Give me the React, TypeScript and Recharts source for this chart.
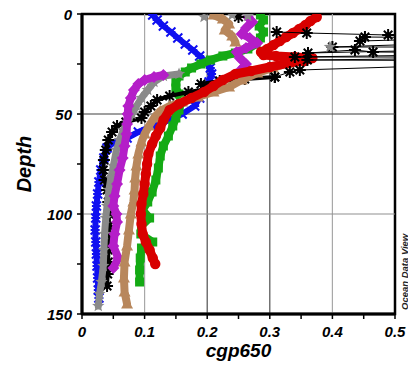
import React from "react";
import { ScatterChart, Scatter, XAxis, YAxis, ReferenceLine, ReferenceArea } from "recharts";

type P = [number, number]; // [cgp650, depth]

// ---- axis ticks ----
const xMajorTicks = [0, 0.1, 0.2, 0.3, 0.4, 0.5];
const xTickLabels = ["0", "0.1", "0.2", "0.3", "0.4", "0.5"];
const xMinorTicks = [0.05, 0.15, 0.25, 0.35, 0.45];
const yMajorTicks = [0, 50, 100, 150];
const yTickLabels = ["0", "50", "100", "150"];
const yMinorTicks = [25, 75, 125];
const xGridValues = [0.1, 0.2, 0.3, 0.4];
const yGridValues = [50, 100];

// ---- series (cgp650, depth) ----
const blueProfile: P[] = [
  [0.113, 0.5], [0.12, 3], [0.13, 6], [0.142, 9], [0.153, 12], [0.165, 15], [0.177, 18],
  [0.188, 21], [0.198, 24], [0.205, 27], [0.207, 30], [0.203, 34], [0.196, 38], [0.188, 42],
  [0.18, 46], [0.16, 50], [0.14, 53], [0.112, 56], [0.09, 59], [0.072, 62], [0.05, 64.5],
  [0.04, 67], [0.035, 72], [0.03, 78], [0.027, 84], [0.025, 90], [0.023, 96], [0.022, 102],
  [0.021, 108], [0.022, 114], [0.023, 120], [0.024, 126], [0.025, 132], [0.026, 138], [0.027, 142],
];
const greenProfile: P[] = [
  [0.285, 0.5], [0.29, 3], [0.283, 6], [0.29, 9], [0.285, 12], [0.278, 15], [0.265, 17.5],
  [0.245, 19.5], [0.225, 21], [0.205, 23], [0.19, 25], [0.175, 27], [0.165, 29], [0.155, 31],
  [0.15, 34], [0.15, 37], [0.155, 40], [0.158, 44], [0.155, 48], [0.15, 52], [0.145, 56],
  [0.138, 61], [0.13, 66], [0.125, 71], [0.122, 77], [0.118, 83], [0.112, 89], [0.105, 94],
  [0.097, 98], [0.108, 102], [0.095, 106], [0.094, 110], [0.113, 114], [0.095, 117],
  [0.093, 122], [0.092, 128], [0.092, 134],
];
const blackProfile: P[] = [
  [0.308, 31.5], [0.26, 32.5], [0.22, 33.5], [0.19, 35], [0.2, 37.5], [0.17, 39], [0.14, 41],
  [0.12, 43], [0.11, 46], [0.1, 49], [0.095, 52], [0.07, 54], [0.056, 56], [0.048, 59],
  [0.042, 63], [0.038, 68], [0.035, 73], [0.034, 78], [0.036, 83], [0.04, 88], [0.042, 94],
  [0.043, 100], [0.043, 106], [0.043, 112], [0.042, 118], [0.042, 124], [0.041, 130], [0.04, 136],
];
const blackSurface: P[] = [
  [0.311, 9], [0.359, 9.5], [0.489, 10.5], [0.8, 10.5], [0.444, 13.5], [0.452, 11.5],
  [0.8, 12.5], [0.4, 16.5], [0.8, 16.5], [0.361, 19.5], [0.436, 18], [0.465, 19], [0.8, 19.5],
  [0.34, 21.5], [0.8, 21.5], [0.36, 23], [0.8, 23.5], [0.348, 28], [0.332, 29], [0.308, 31.5],
];
const blackTop: P[] = [[0.25, 1.5]];
const graySurface: P[] = [[0.195, 1.5], [0.24, 0.5], [0.265, 1], [0.396, 16.5]];
const grayProfile: P[] = [
  [0.155, 30], [0.13, 31], [0.115, 34], [0.105, 38], [0.095, 42], [0.087, 46], [0.08, 50],
  [0.072, 54], [0.066, 58], [0.06, 63], [0.055, 68], [0.05, 76], [0.046, 82], [0.043, 88],
  [0.04, 96], [0.038, 102], [0.036, 110], [0.035, 118], [0.034, 126], [0.031, 134],
  [0.028, 140], [0.026, 146],
];
const magentaTop: P[] = [
  [0.265, 1.5], [0.272, 4], [0.262, 7], [0.255, 10], [0.268, 12], [0.28, 14.5], [0.262, 17],
  [0.247, 19], [0.252, 22], [0.262, 25], [0.255, 27.5],
];
const magentaProfile: P[] = [
  [0.13, 30.5], [0.115, 31.5], [0.1, 33], [0.09, 35], [0.083, 38], [0.078, 42], [0.074, 46],
  [0.073, 50], [0.072, 55], [0.071, 60], [0.068, 66], [0.065, 72], [0.06, 78], [0.056, 85],
  [0.052, 91], [0.05, 96], [0.055, 100], [0.056, 104], [0.052, 110], [0.05, 116],
  [0.058, 122], [0.05, 127],
];
const brownTop: P[] = [[0.21, 0.5], [0.225, 2.5], [0.235, 5], [0.228, 8], [0.24, 11], [0.245, 14]];
const brownProfile: P[] = [
  [0.36, 22], [0.33, 24.5], [0.305, 27], [0.28, 29.5], [0.255, 33], [0.235, 36.5], [0.21, 39],
  [0.185, 41.5], [0.16, 44], [0.14, 46], [0.125, 48.5], [0.115, 52], [0.107, 56], [0.1, 60],
  [0.095, 64], [0.09, 70], [0.087, 76], [0.085, 82], [0.084, 88], [0.082, 94], [0.078, 100],
  [0.075, 108], [0.072, 116], [0.068, 124], [0.067, 132], [0.068, 139], [0.072, 145],
];
const redProfile: P[] = [
  [0.375, 1.5], [0.365, 3.5], [0.357, 5.5], [0.347, 7.5], [0.337, 9.5], [0.326, 11.5],
  [0.316, 13.5], [0.306, 15.5], [0.296, 17.5], [0.286, 19], [0.29, 20.5], [0.31, 21],
  [0.34, 21.5], [0.368, 22], [0.355, 23.5], [0.33, 24.5], [0.3, 26.5], [0.27, 28.5],
  [0.245, 30], [0.225, 33], [0.21, 36], [0.195, 39], [0.175, 42], [0.155, 45], [0.14, 48],
  [0.13, 53], [0.125, 57], [0.118, 61], [0.112, 65], [0.106, 70], [0.104, 75], [0.102, 80],
  [0.1, 85], [0.098, 90], [0.095, 95], [0.094, 100], [0.095, 105], [0.097, 110], [0.102, 114],
  [0.108, 118], [0.113, 122], [0.117, 125],
];

// ---- styles ----
const C = {
  blue: "#1010f0",
  black: "#000000",
  gray: "#8a8a8a",
  brown: "#b8875c",
  green: "#14aa14",
  magenta: "#b41ec8",
  red: "#d80000",
};
const FONT = "'Liberation Sans', Arial, Helvetica, sans-serif";

const toPts = (a: P[]) => a.map(([x, d]) => ({ x, d }));

const marker = (kind: string, color: string) => (p: any) => {
  const { cx, cy } = p;
  if (cx == null || cy == null || isNaN(cx) || isNaN(cy)) return <g />;
  switch (kind) {
    case "cross": {
      const r = 4.5;
      return (
        <g stroke={color} strokeWidth={2}>
          <line x1={cx - r} y1={cy - r} x2={cx + r} y2={cy + r} />
          <line x1={cx - r} y1={cy + r} x2={cx + r} y2={cy - r} />
          <line x1={cx - r} y1={cy} x2={cx + r} y2={cy} />
        </g>
      );
    }
    case "asterisk": {
      const r = 6;
      const segs = [0, 45, 90, 135].map((a) => {
        const rad = (a * Math.PI) / 180;
        return (
          <line key={a} x1={cx - r * Math.cos(rad)} y1={cy - r * Math.sin(rad)}
            x2={cx + r * Math.cos(rad)} y2={cy + r * Math.sin(rad)} />
        );
      });
      return (
        <g stroke={color} strokeWidth={2}>
          {segs}
          <circle cx={cx} cy={cy} r={2.8} fill={color} stroke="none" />
        </g>
      );
    }
    case "star": {
      const pts: string[] = [];
      for (let i = 0; i < 10; i++) {
        const r = i % 2 === 0 ? 6.5 : 2.8;
        const a = -Math.PI / 2 + (i * Math.PI) / 5;
        pts.push(`${cx + r * Math.cos(a)},${cy + r * Math.sin(a)}`);
      }
      return <polygon points={pts.join(" ")} fill={color} />;
    }
    case "triangle":
      return <polygon points={`${cx},${cy - 6} ${cx + 6},${cy + 4.5} ${cx - 6},${cy + 4.5}`} fill={color} />;
    case "square":
      return <rect x={cx - 4.5} y={cy - 4.5} width={9} height={9} fill={color} />;
    case "diamond":
      return <polygon points={`${cx},${cy - 6} ${cx + 6},${cy} ${cx},${cy + 6} ${cx - 6},${cy}`} fill={color} />;
    default:
      return <circle cx={cx} cy={cy} r={5.2} fill={color} />;
  }
};

const isMajorX = (v: number) => xMajorTicks.some((m) => Math.abs(m - v) < 1e-9);
const isMajorY = (v: number) => yMajorTicks.some((m) => Math.abs(m - v) < 1e-9);

const XTick = (props: any) => {
  const { x, y, payload } = props;
  const v = payload.value as number;
  if (!isMajorX(v)) return <g />;
  const idx = xMajorTicks.findIndex((m) => Math.abs(m - v) < 1e-9);
  return (
    <text x={x} y={y} dy={16} textAnchor="middle" fontFamily={FONT} fontWeight="bold"
      fontStyle="italic" fontSize={15} fill="#000">
      {xTickLabels[idx]}
    </text>
  );
};

const YTick = (props: any) => {
  const { x, y, payload } = props;
  const v = payload.value as number;
  if (!isMajorY(v)) return <g />;
  const idx = yMajorTicks.findIndex((m) => Math.abs(m - v) < 1e-9);
  return (
    <text x={x - 3} y={y} dy={5.5} textAnchor="end" fontFamily={FONT} fontWeight="bold"
      fontStyle="italic" fontSize={15} fill="#000">
      {yTickLabels[idx]}
    </text>
  );
};

const xTicks = [...xMajorTicks, ...xMinorTicks].sort((a, b) => a - b);
const yTicks = [...yMajorTicks, ...yMinorTicks].sort((a, b) => a - b);

const xGridColors = ["#a8a8a8", "#505050", "#505050", "#a8a8a8"];
const yGridColors = ["#404040", "#909090"];

const W = 416;
const H = 374;

type SeriesDef = { data: P[]; kind: string; color: string; lineWidth: number };

const series: SeriesDef[] = [
  { data: blueProfile, kind: "cross", color: C.blue, lineWidth: 6 },
  { data: greenProfile, kind: "square", color: C.green, lineWidth: 8 },
  { data: blackProfile, kind: "asterisk", color: C.black, lineWidth: 4 },
  { data: grayProfile, kind: "star", color: C.gray, lineWidth: 7 },
  { data: magentaTop, kind: "diamond", color: C.magenta, lineWidth: 8 },
  { data: magentaProfile, kind: "diamond", color: C.magenta, lineWidth: 8 },
  { data: brownTop, kind: "triangle", color: C.brown, lineWidth: 8 },
  { data: brownProfile, kind: "triangle", color: C.brown, lineWidth: 8 },
  { data: redProfile, kind: "circle", color: C.red, lineWidth: 9 },
  { data: blackSurface, kind: "asterisk", color: C.black, lineWidth: 1 },
  { data: blackTop, kind: "asterisk", color: C.black, lineWidth: 0 },
  { data: graySurface, kind: "star", color: C.gray, lineWidth: 0 },
];

export default function App() {
  return (
    <div style={{ position: "relative", width: W, height: H, margin: "-8px 0 0 -8px" }}>
      <ScatterChart width={W} height={H} margin={{ top: 14, right: 21, bottom: 0, left: 0 }}>
        <XAxis
          type="number"
          dataKey="x"
          domain={[0, 0.5]}
          allowDataOverflow
          ticks={xTicks}
          interval={0}
          height={60}
          tick={<XTick />}
          tickSize={5}
          axisLine={{ stroke: "#000", strokeWidth: 3 }}
          tickLine={{ stroke: "#000", strokeWidth: 1.5 }}
        />
        <YAxis
          type="number"
          dataKey="d"
          domain={[0, 150]}
          reversed
          allowDataOverflow
          ticks={yTicks}
          interval={0}
          width={82}
          tick={<YTick />}
          tickSize={5}
          axisLine={{ stroke: "#000", strokeWidth: 3 }}
          tickLine={{ stroke: "#000", strokeWidth: 1.5 }}
        />
        {xGridValues.map((v, i) => (
          <ReferenceLine key={"gx" + v} x={v} stroke={xGridColors[i]} strokeWidth={1.2} />
        ))}
        {yGridValues.map((v, i) => (
          <ReferenceLine key={"gy" + v} y={v} stroke={yGridColors[i]} strokeWidth={1.2} />
        ))}
        {series.map((s, i) => (
          <Scatter
            key={i}
            data={toPts(s.data)}
            fill={s.color}
            isAnimationActive={false}
            shape={marker(s.kind, s.color)}
            line={
              s.lineWidth > 0
                ? { stroke: s.color, strokeWidth: s.lineWidth, strokeLinejoin: "round", strokeLinecap: "round" }
                : false
            }
            lineType="joint"
          />
        ))}
        <ReferenceArea x1={0} x2={0.5} y1={0} y2={150} fill="none" fillOpacity={0} stroke="#000" strokeWidth={2.5} ifOverflow="visible" />
      </ScatterChart>
      <svg width={W} height={H} style={{ position: "absolute", left: 0, top: 0, pointerEvents: "none" }}>
        <text x={238.5} y={357} textAnchor="middle" fontFamily={FONT} fontWeight="bold" fontStyle="italic" fontSize={19} fill="#000">
          cgp650
        </text>
        <text transform="translate(31,164) rotate(-90)" textAnchor="middle" fontFamily={FONT} fontWeight="bold" fontStyle="italic" fontSize={20} fill="#000">
          Depth
        </text>
        <text transform="translate(408,310) rotate(-90)" textAnchor="start" fontFamily={FONT} fontWeight="bold" fontStyle="italic" fontSize={9.5} fill="#222">
          Ocean Data View
        </text>
      </svg>
    </div>
  );
}
